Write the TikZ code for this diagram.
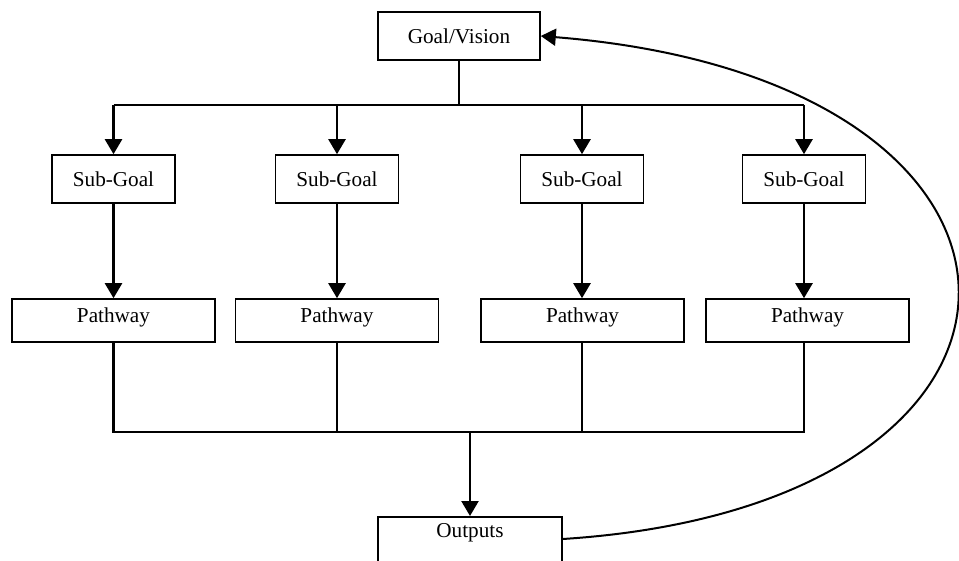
\documentclass[tikz,border=0pt]{standalone}
\usepackage{fontspec}
\setmainfont{Liberation Serif}
\usetikzlibrary{arrows.meta}
\begin{document}
\begin{tikzpicture}[x=0.5pt,y=-0.5pt]

\tikzstyle{b}=[draw, line width=0.8pt, inner sep=0pt, font=\fontsize{10.6}{12}\selectfont];
\tikzstyle{sg}=[b, minimum width=61.5pt, minimum height=24pt];
\tikzstyle{pw}=[b, minimum width=101.5pt, text height=11.5pt, text depth=10pt];
\tikzstyle{l}=[line width=1.2pt];
\tikzstyle{e}=[-{Triangle[length=7.5pt,width=8.5pt]}, line width=1.2pt];
\clip (0,0) rectangle (959,561);

\node[b, minimum width=81pt, minimum height=24pt] (goal) at (459,36) {Goal/Vision};

\node[sg] (sg1) at (113.5,179) {Sub-Goal};
\node[sg] (sg2) at (337,179) {Sub-Goal};
\node[sg] (sg3) at (582,179) {Sub-Goal};
\node[sg] (sg4) at (804,179) {Sub-Goal};

\node[pw] (pw1) at (113.5,320.5) {Pathway};
\node[pw] (pw2) at (337,320.5) {Pathway};
\node[pw] (pw3) at (582.5,320.5) {Pathway};
\node[pw] (pw4) at (807.5,320.5) {Pathway};

\node[b, anchor=north, minimum width=92pt, text height=10.5pt, text depth=30pt] (out) at (470,516) {Outputs};

\coordinate (split) at (459,105);
\coordinate (join) at (470,432);

\draw[l] (goal) -- (split);
\draw[l] (sg1 |- split) -- (sg4 |- split);
\draw[e] (sg1 |- split) -- (sg1);
\draw[e] (sg2 |- split) -- (sg2);
\draw[e] (sg3 |- split) -- (sg3);
\draw[e] (sg4 |- split) -- (sg4);

\draw[e] (sg1) -- (sg1 |- pw1.north);
\draw[e] (sg2) -- (sg2 |- pw2.north);
\draw[e] (sg3) -- (sg3 |- pw3.north);
\draw[e] (sg4) -- (sg4 |- pw4.north);

\draw[l] (pw1.south -| sg1) -- (sg1 |- join) -- (sg4 |- join) -- (pw4.south -| sg4);
\draw[l] (pw2.south -| sg2) -- (sg2 |- join);
\draw[l] (pw3.south -| sg3) -- (sg3 |- join);
\draw[e] (join) -- (out);

\draw[e, line width=1pt] ([yshift=-11.5pt]out.north east) .. controls (1092,505) and (1092,80) .. (goal.east);
\end{tikzpicture}
\end{document}
